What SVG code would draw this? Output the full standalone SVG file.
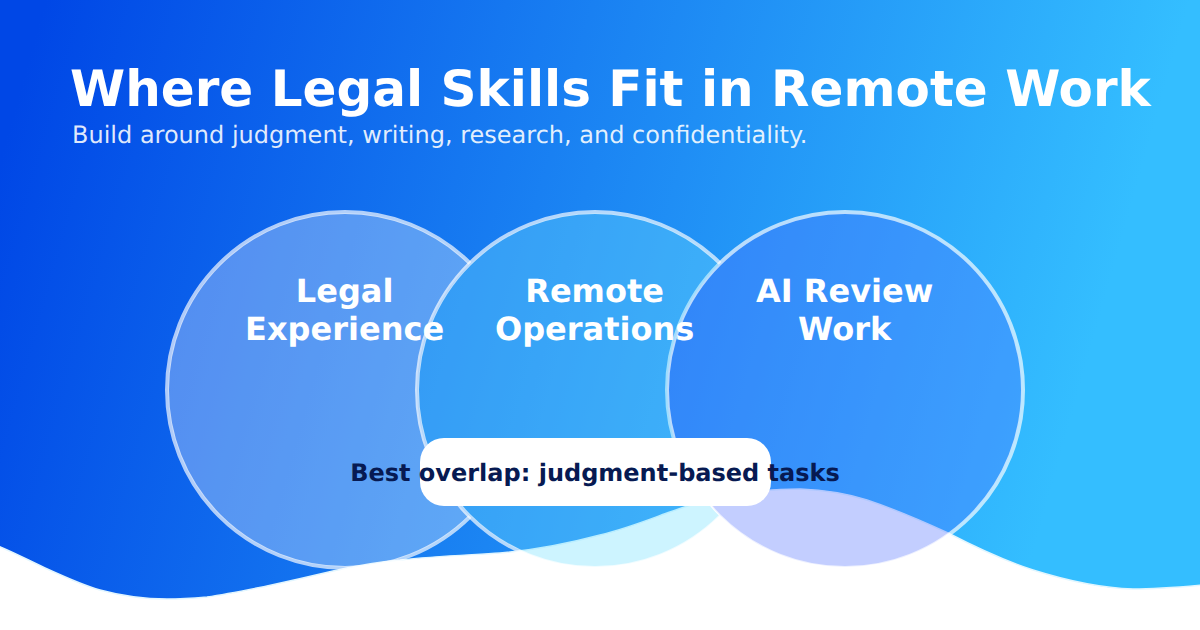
<svg xmlns="http://www.w3.org/2000/svg" width="1200" height="630" viewBox="0 0 1200 630">
<style>
text{font-family:"DejaVu Sans",Verdana,sans-serif;text-rendering:geometricPrecision}
.title{font-size:50px;font-weight:700;fill:#fff}
.sub{font-size:24px;fill:#fff;fill-opacity:.88}
.lbl{font-size:32px;font-weight:700;fill:#fff;text-anchor:middle}
.pilltext{font-size:24px;font-weight:700;fill:#071a52;text-anchor:middle}
.ring{fill:none;stroke:#fff;stroke-opacity:.68;stroke-width:4}
</style>
<defs>
<linearGradient id="bg" gradientUnits="userSpaceOnUse" x1="0" y1="160" x2="1060" y2="460">
<stop offset="0" stop-color="#0047e6"/><stop offset="1" stop-color="#34beff"/>
</linearGradient>
<clipPath id="out2"><path clip-rule="evenodd" d="M0 0H1200V630H0ZM417 390a178 178 0 1 0 356 0a178 178 0 1 0 -356 0Z"/></clipPath>
<clipPath id="out3"><path clip-rule="evenodd" d="M0 0H1200V630H0ZM667 390a178 178 0 1 0 356 0a178 178 0 1 0 -356 0Z"/></clipPath>
</defs>
<rect id="background" width="1200" height="630" fill="url(#bg)"/>
<path id="wave" fill="#fff" stroke="#e2f6ff" stroke-width="1.5" d="M-2 546C15 553 30 561 43 567C65 577 82 585 100 590C122 596 145 599 167 599C182 599 195 598 207 597C228 594 247 590 267 586C290 581 312 576 333 571C355 566 378 562 400 560C435 556 470 555 500 553C535 550 570 543 600 535C625 529 645 521 667 513C690 505 710 498 733 495C757 490 780 489 800 489C825 490 845 493 867 500C897 510 922 521 948 533C977 548 1005 561 1033 570C1068 581 1100 588 1133 589C1158 589 1180 587 1202 585V632H-2Z"/>
<text class="title" x="70" y="106">Where Legal Skills Fit in Remote Work</text>
<text class="sub" x="72" y="143">Build around judgment, writing, research, and confidentiality.</text>
<g id="connectors"/>
<g id="node-ai-review">
<circle cx="845" cy="390" r="177" fill="#5373ff" fill-opacity=".35"/>
<circle class="ring" cx="845" cy="390" r="178"/>
<text class="lbl" x="844.6" y="302">AI Review</text>
<text class="lbl" x="844.6" y="340">Work</text>
</g>
<g id="node-remote-operations">
<g clip-path="url(#out3)">
<circle cx="595" cy="390" r="177" fill="#70dfff" fill-opacity=".35"/>
<circle class="ring" cx="595" cy="390" r="178"/>
</g>
<text class="lbl" x="594.6" y="302">Remote</text>
<text class="lbl" x="594.6" y="340">Operations</text>
</g>
<g id="node-legal-experience">
<g clip-path="url(#out2)">
<circle cx="345" cy="390" r="177" fill="#fff" fill-opacity=".3"/>
<circle class="ring" cx="345" cy="390" r="178"/>
</g>
<text class="lbl" x="344.6" y="302">Legal</text>
<text class="lbl" x="344.6" y="340">Experience</text>
</g>
<g id="node-best-overlap">
<rect x="420" y="438" width="351" height="68" rx="24" fill="#fff"/>
<text class="pilltext" x="595" y="481">Best overlap: judgment-based tasks</text>
</g>
</svg>
